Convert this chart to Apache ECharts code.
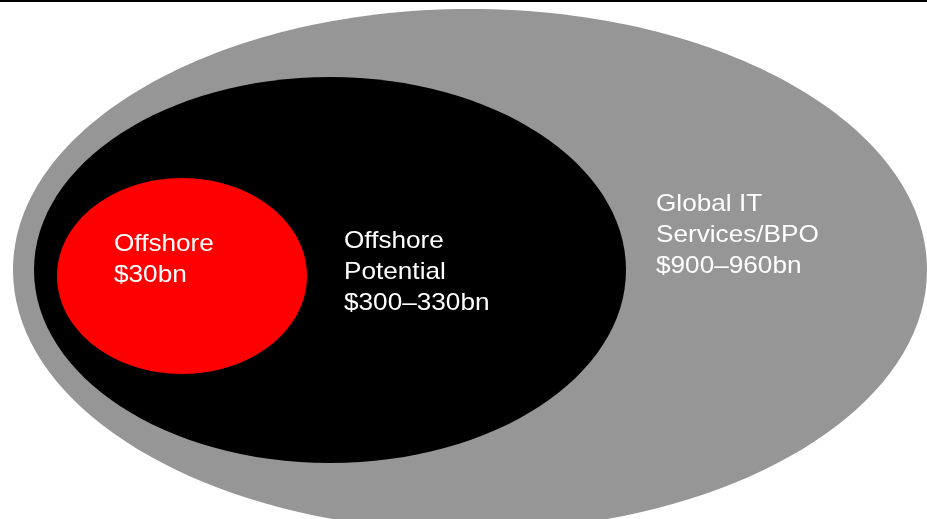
<!DOCTYPE html>
<html>
<head>
<meta charset="utf-8">
<style>
  html, body { margin: 0; padding: 0; background: #ffffff; }
  #chart { width: 927px; height: 519px; }
</style>
<script src="https://cdn.jsdelivr.net/npm/echarts@6/dist/echarts.min.js"></script>
</head>
<body>
<div id="chart"></div>
<script>
// Market segments, outermost first
const segments = ['Global IT\nServices/BPO', 'Offshore\nPotential', 'Offshore'];
const valueLabels = ['$900–960bn', '$300–330bn', '$30bn'];
const fills = ['#969696', '#000000', '#ff0000'];

// Ellipse geometry in plot units: centre x, centre y, radius x, radius y
const ellipseCx = [470, 330, 182];
const ellipseCy = [270, 270, 276];
const ellipseRx = [457, 296, 125];
const ellipseRy = [261, 193, 98];
// Label anchor (left, top of first line box) in plot units
const labelX = [656, 344, 114];
const labelY = [189, 226, 229];

const chart = echarts.init(document.getElementById('chart'), null, { renderer: 'canvas' });

const seriesData = segments.map(function (name, i) {
  return {
    name: name,
    value: [ellipseCx[i], ellipseCy[i], ellipseRx[i], ellipseRy[i], labelX[i], labelY[i]],
    label: name + '\n' + valueLabels[i],
    fill: fills[i]
  };
});

function renderItem(params, api) {
  const item = seriesData[params.dataIndex];
  const c = api.coord([api.value(0), api.value(1)]);
  const edge = api.coord([api.value(0) + api.value(2), api.value(1) + api.value(3)]);
  const rx = Math.abs(edge[0] - c[0]);
  const ry = Math.abs(edge[1] - c[1]);
  const t = api.coord([api.value(4), api.value(5)]);
  return {
    type: 'group',
    children: [
      {
        type: 'ellipse',
        shape: { cx: c[0], cy: c[1], rx: rx, ry: ry },
        style: { fill: item.fill }
      },
      {
        type: 'text',
        x: t[0],
        y: t[1],
        scaleX: 1.09,
        style: {
          text: item.label,
          fill: '#ffffff',
          font: '24px "Liberation Sans", Arial, sans-serif',
          lineHeight: 31,
          align: 'left',
          verticalAlign: 'top'
        }
      }
    ]
  };
}

chart.setOption({
  animation: false,
  backgroundColor: '#ffffff',
  grid: { left: 0, right: 0, top: 0, bottom: 0 },
  xAxis: { type: 'value', min: 0, max: 927, show: false },
  yAxis: { type: 'value', min: 0, max: 519, inverse: true, show: false },
  graphic: [
    {
      type: 'rect',
      shape: { x: 0, y: 0, width: 927, height: 2 },
      style: { fill: '#000000' },
      z: 100
    }
  ],
  series: [
    {
      type: 'custom',
      coordinateSystem: 'cartesian2d',
      clip: false,
      renderItem: renderItem,
      data: seriesData.map(function (d) { return d.value; })
    }
  ]
});
</script>
</body>
</html>
